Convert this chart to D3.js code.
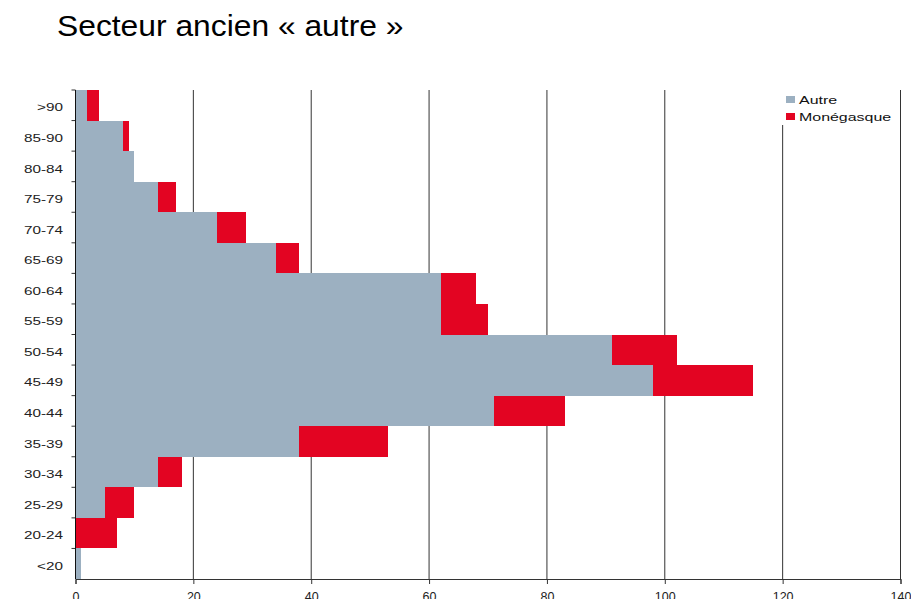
<!DOCTYPE html>
<html>
<head>
<meta charset="utf-8">
<script src="https://cdn.jsdelivr.net/npm/d3@7"></script>
<style>
  body { margin: 0; background: #fff; }
  svg { font-family: "Liberation Sans", Arial, sans-serif; }
</style>
</head>
<body>
<svg id="chart" width="911" height="599"></svg>
<script>
// age groups, bottom to top
const ages = ['<20', '20-24', '25-29', '30-34', '35-39', '40-44', '45-49', '50-54',
              '55-59', '60-64', '65-69', '70-74', '75-79', '80-84', '85-90', '>90']
const autre = [1, 0, 5, 14, 38, 71, 98, 91, 62, 62, 34, 24, 14, 10, 8, 2]
const monegasque = [0, 7, 5, 4, 15, 12, 17, 11, 8, 6, 4, 5, 3, 0, 1, 2]
const seriesNames = ['Autre', 'Monégasque']
const colors = ['#9cb0c1', '#e30422']
const xTicks = [0, 20, 40, 60, 80, 100, 120, 140]

const svg = d3.select('#chart')
const plotLeft = 75.5, plotRight = 900.5, plotTop = 90, plotBottom = 579

const x = d3.scaleLinear().domain([0, 140]).range([plotLeft, plotRight])
const y = d3.scaleBand().domain(ages).range([plotBottom, plotTop]).padding(0)

// title (the original type is a bit wider than Liberation Sans)
svg.append('text')
    .attr('transform', 'translate(57,36) scale(1.06,1)')
    .attr('font-size', 30)
    .attr('fill', '#000')
    .text('Secteur ancien « autre »')

// gridlines
svg.append('g').selectAll('line')
    .data(xTicks.slice(1))
    .join('line')
    .attr('x1', d => x(d)).attr('x2', d => x(d))
    .attr('y1', plotTop).attr('y2', plotBottom)
    .attr('stroke', '#333').attr('stroke-width', 1)

// stacked bars
const rows = ages.map((a, i) => ({ age: a, Autre: autre[i], 'Monégasque': monegasque[i] }))
const stacked = d3.stack().keys(seriesNames)(rows)

svg.append('g').selectAll('g')
    .data(stacked)
    .join('g')
    .attr('fill', (d, i) => colors[i])
    .selectAll('rect')
    .data(d => d)
    .join('rect')
    .attr('x', d => x(d[0]))
    .attr('width', d => x(d[1]) - x(d[0]))
    .attr('y', d => y(d.data.age))
    .attr('height', y.bandwidth())
    .attr('shape-rendering', 'crispEdges')

// x axis
const xAxis = svg.append('g')
    .attr('transform', `translate(0,${plotBottom})`)
    .call(d3.axisBottom(x).tickValues(xTicks).tickSize(5).tickPadding(8))
xAxis.select('.domain').attr('stroke', '#333')
xAxis.selectAll('line').attr('stroke', '#333')
xAxis.selectAll('text').attr('font-size', 12.5).attr('fill', '#222')
    .attr('font-family', '"Liberation Sans", Arial, sans-serif')

// y axis: ticks at band boundaries
const yAxis = svg.append('g')
svg.append('line')
    .attr('x1', plotLeft).attr('x2', plotLeft)
    .attr('y1', plotTop).attr('y2', plotBottom)
    .attr('stroke', '#111')
yAxis.selectAll('line')
    .data(ages)
    .join('line')
    .attr('x1', plotLeft - 4).attr('x2', plotLeft)
    .attr('y1', d => y(d)).attr('y2', d => y(d))
    .attr('stroke', '#333')
yAxis.selectAll('text')
    .data(ages)
    .join('text')
    .attr('transform', d => `translate(63,${y(d) + y.bandwidth() / 2 + 2}) scale(1.33,1)`)
    .attr('dy', '0.36em')
    .attr('text-anchor', 'end')
    .attr('font-size', 11.5)
    .attr('fill', '#222')
    .text(d => d)

// legend
const legend = svg.append('g')
legend.append('rect')
    .attr('x', 782).attr('y', plotTop).attr('width', 118).attr('height', 35)
    .attr('fill', '#fff')
const items = legend.selectAll('g.item')
    .data(seriesNames)
    .join('g')
    .attr('class', 'item')
    .attr('transform', (d, i) => `translate(786,${96 + i * 17})`)
items.append('rect')
    .attr('width', 9).attr('height', 7)
    .attr('fill', (d, i) => colors[i])
items.append('text')
    .attr('transform', 'translate(13,7.5) scale(1.45,1)')
    .attr('font-size', 11)
    .attr('fill', '#111')
    .text(d => d)
</script>
</body>
</html>
